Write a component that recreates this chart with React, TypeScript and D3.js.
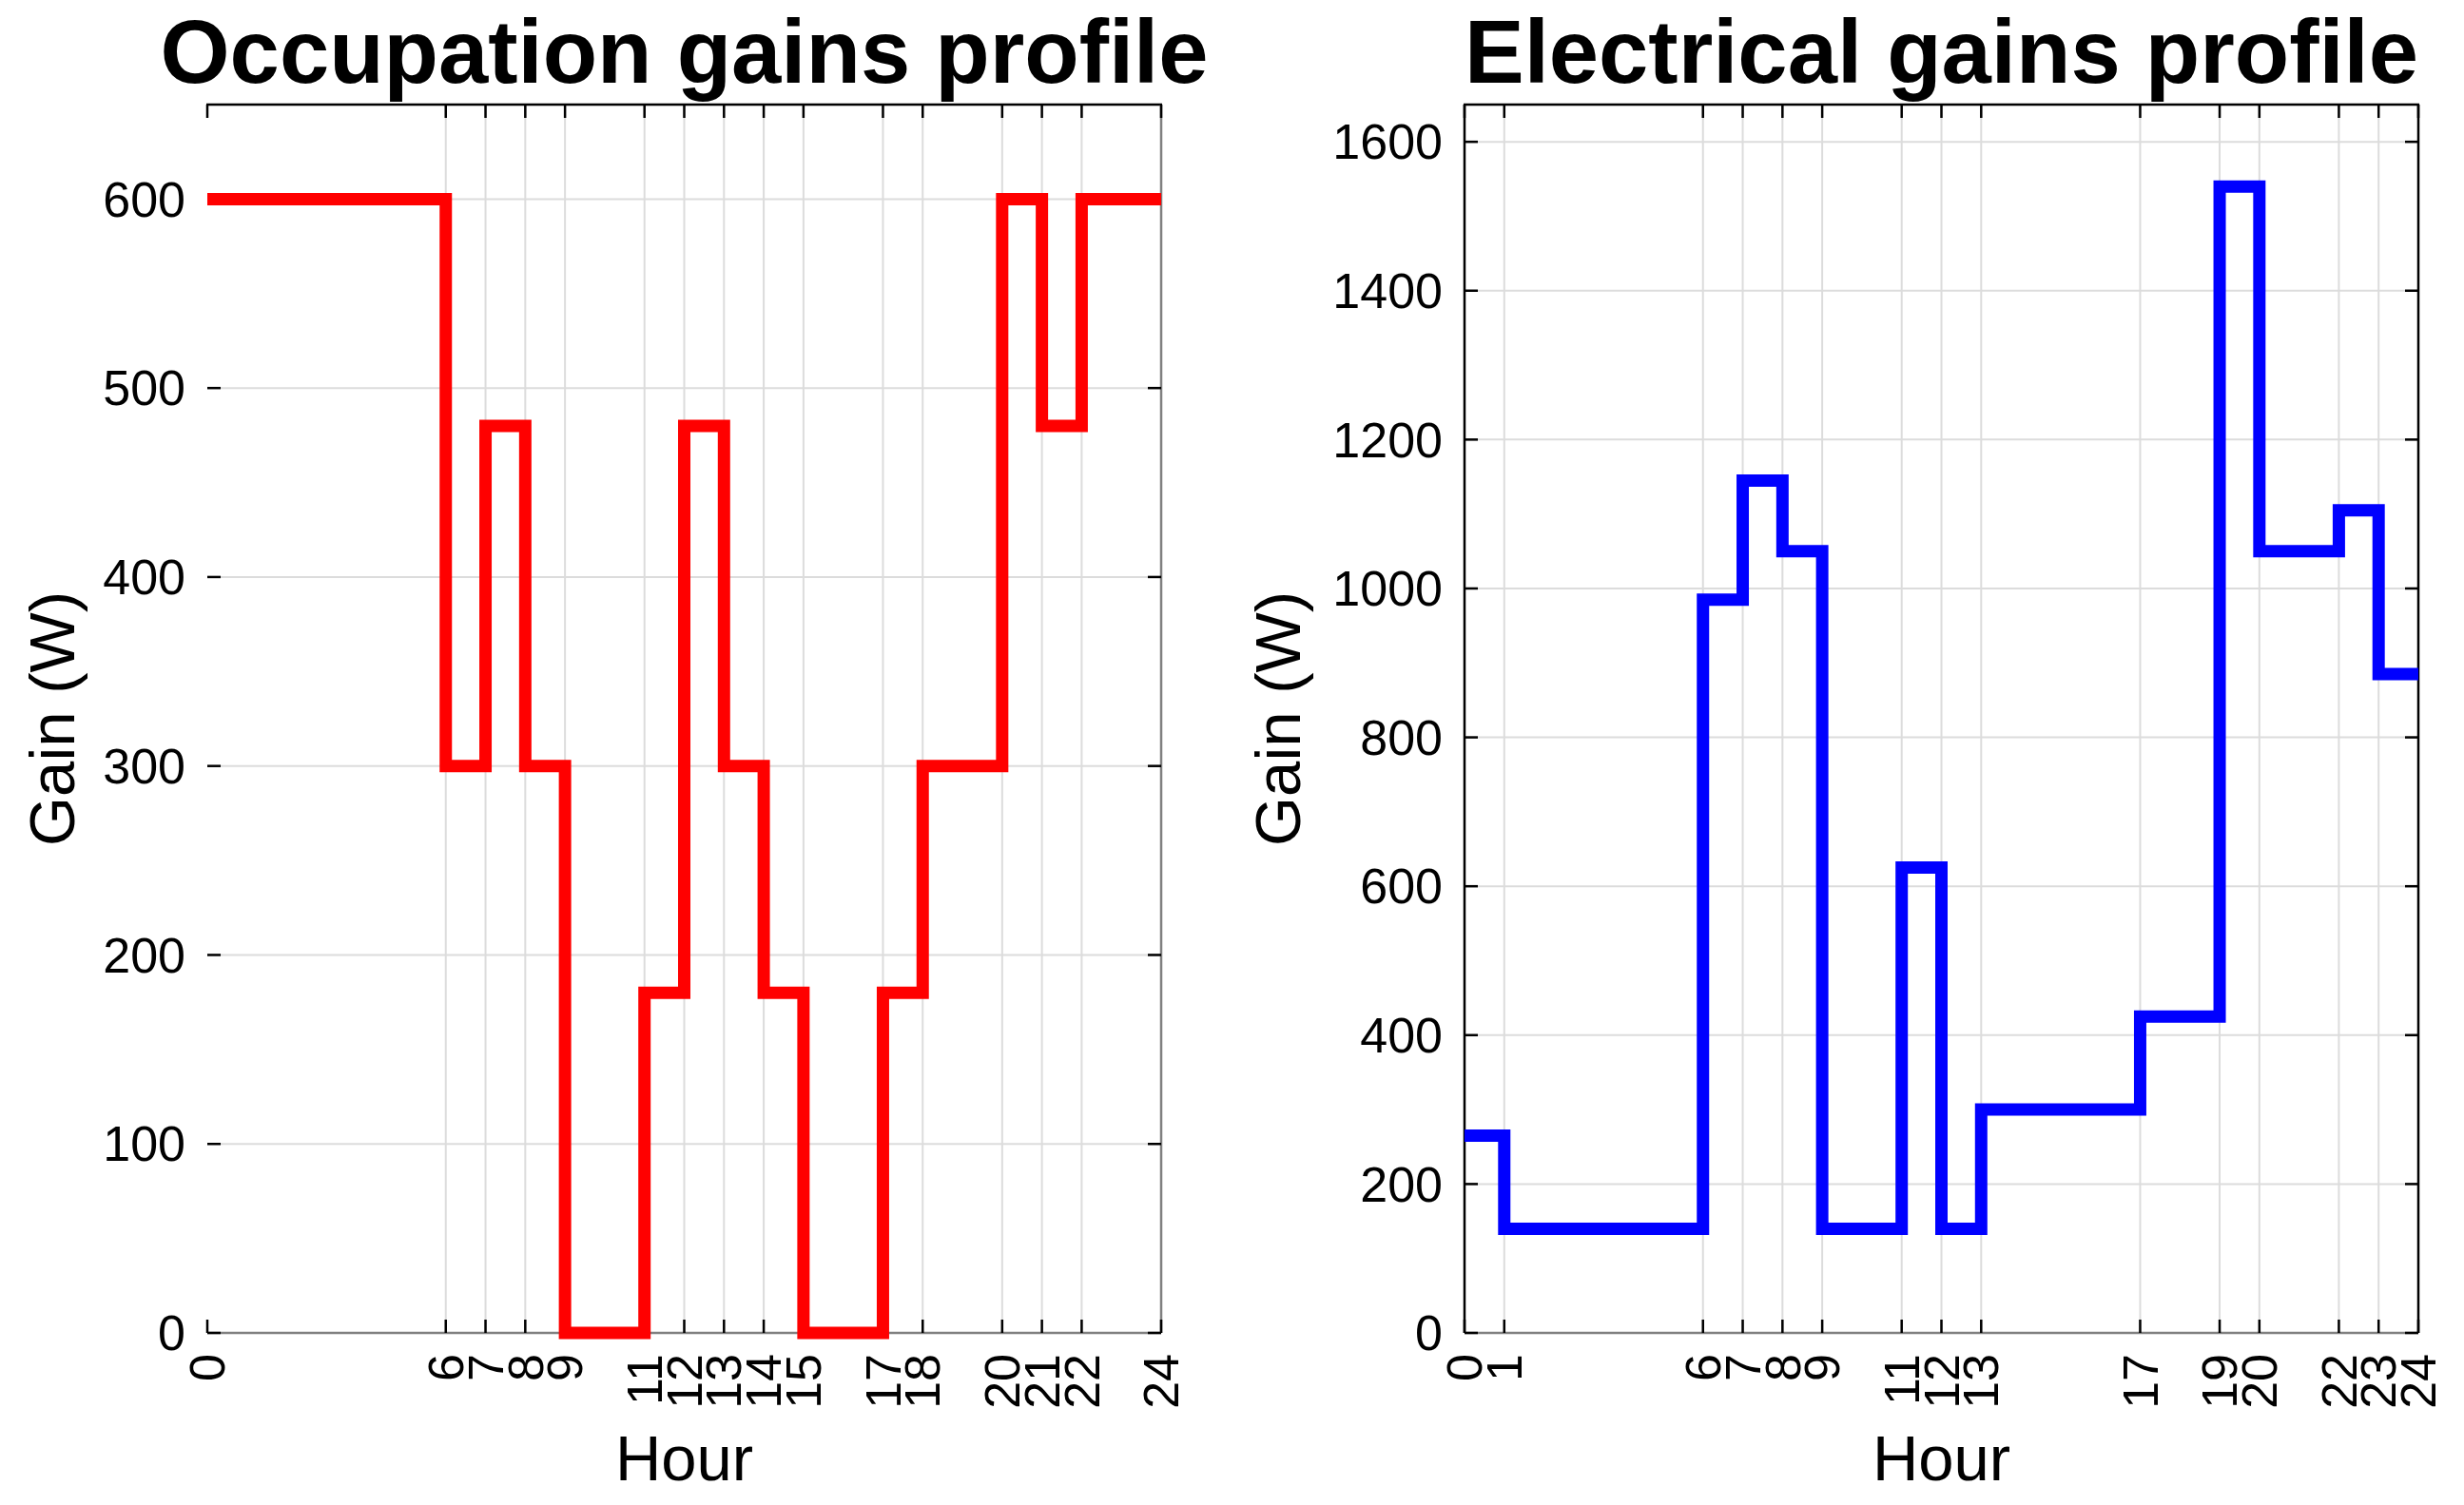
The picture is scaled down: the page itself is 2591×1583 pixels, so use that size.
import React from "react";
import * as d3 from "d3";

// ---- data ----
const occHours = [0, 6, 7, 8, 9, 11, 12, 13, 14, 15, 17, 18, 20, 21, 22, 24];
const occGains = [600, 300, 480, 300, 0, 180, 480, 300, 180, 0, 180, 300, 600, 480, 600];
const occYTicks = [0, 100, 200, 300, 400, 500, 600];

const elecHours = [0, 1, 6, 7, 8, 9, 11, 12, 13, 17, 19, 20, 22, 23, 24];
const elecGains = [265, 140, 985, 1145, 1050, 140, 625, 140, 300, 425, 1540, 1050, 1105, 885];
const elecYTicks = [0, 200, 400, 600, 800, 1000, 1200, 1400, 1600];

const FONT = "'Liberation Sans', Arial, Helvetica, sans-serif";
const W = 2591;
const H = 1583;
const TOP = 110;
const BOTTOM = 1402;

type PanelProps = {
  x0: number;
  x1: number;
  title: string;
  hours: number[];
  gains: number[];
  yTicks: number[];
  yMax: number;
  color: string;
  ylabelX: number;
  leftAxis: boolean;
  rightAxisColor: string;
};

function Panel(p: PanelProps) {
  const x = d3.scaleLinear().domain([0, 24]).range([p.x0, p.x1]);
  const y = d3.scaleLinear().domain([0, p.yMax]).range([BOTTOM, TOP]);
  const pts: [number, number][] = p.hours.map((h, i) => [
    h,
    p.gains[Math.min(i, p.gains.length - 1)],
  ]);
  const line = d3
    .line<[number, number]>()
    .x((d) => x(d[0]))
    .y((d) => y(d[1]))
    .curve(d3.curveStepAfter);
  const cx = (p.x0 + p.x1) / 2;
  const cy = (TOP + BOTTOM) / 2;
  const tickLen = 14;
  return (
    <g>
      {/* grid */}
      {p.yTicks
        .filter((t) => t > 0)
        .map((t) => (
          <line key={"gy" + t} x1={p.x0} x2={p.x1} y1={y(t)} y2={y(t)} stroke="#dcdcdc" strokeWidth={2} />
        ))}
      {p.hours
        .filter((h) => h > 0 && h < 24)
        .map((h) => (
          <line key={"gx" + h} x1={x(h)} x2={x(h)} y1={TOP} y2={BOTTOM} stroke="#dcdcdc" strokeWidth={2} />
        ))}
      {/* axes box */}
      <line x1={p.x0} x2={p.x1} y1={BOTTOM} y2={BOTTOM} stroke="#808080" strokeWidth={2.5} />
      <line x1={p.x0 - 1} x2={p.x1 + 1} y1={TOP} y2={TOP} stroke="#000" strokeWidth={2.5} />
      {p.leftAxis && <line x1={p.x0} x2={p.x0} y1={TOP} y2={BOTTOM} stroke="#000" strokeWidth={2.5} />}
      <line x1={p.x1} x2={p.x1} y1={TOP} y2={BOTTOM} stroke={p.rightAxisColor} strokeWidth={2.5} />
      {/* ticks */}
      {p.yTicks.map((t) => (
        <g key={"ty" + t}>
          <line x1={p.x0} x2={p.x0 + tickLen} y1={y(t)} y2={y(t)} stroke="#000" strokeWidth={2.5} />
          <line x1={p.x1} x2={p.x1 - tickLen} y1={y(t)} y2={y(t)} stroke="#000" strokeWidth={2.5} />
        </g>
      ))}
      {p.hours.map((h) => (
        <g key={"tx" + h}>
          <line x1={x(h)} x2={x(h)} y1={BOTTOM} y2={BOTTOM - tickLen} stroke="#000" strokeWidth={2.5} />
          <line x1={x(h)} x2={x(h)} y1={TOP} y2={TOP + tickLen} stroke="#000" strokeWidth={2.5} />
        </g>
      ))}
      {/* data line */}
      <path d={line(pts) || ""} fill="none" stroke={p.color} strokeWidth={13} strokeLinejoin="miter" strokeLinecap="butt" />
      {/* y tick labels */}
      {p.yTicks.map((t) => (
        <text key={"ly" + t} x={p.x0 - 23} y={y(t)} dy="0.35em" textAnchor="end" fontSize={52} fontFamily={FONT}>
          {t}
        </text>
      ))}
      {/* x tick labels */}
      {p.hours.map((h) => (
        <text
          key={"lx" + h}
          transform={`translate(${x(h)},${BOTTOM + 22}) rotate(-90)`}
          dy="0.35em"
          textAnchor="end"
          fontSize={52}
          fontFamily={FONT}
        >
          {h}
        </text>
      ))}
      {/* labels */}
      <text x={cx} y={87} textAnchor="middle" fontSize={94} fontWeight="bold" fontFamily={FONT}>
        {p.title}
      </text>
      <text x={cx} y={1557} textAnchor="middle" fontSize={67} fontFamily={FONT}>
        Hour
      </text>
      <text transform={`translate(${p.ylabelX},${cy}) rotate(-90)`} textAnchor="middle" fontSize={67} fontFamily={FONT}>
        Gain (W)
      </text>
    </g>
  );
}

export default function App() {
  return (
    <svg
      width={W}
      height={H}
      viewBox={`0 0 ${W} ${H}`}
      style={{ position: "absolute", left: 0, top: 0, background: "#fff" }}
    >
      <rect x={0} y={0} width={W} height={H} fill="#fff" />
      <Panel
        x0={218}
        x1={1221}
        title="Occupation gains profile"
        hours={occHours}
        gains={occGains}
        yTicks={occYTicks}
        yMax={650}
        color="#ff0000"
        ylabelX={78}
        leftAxis={false}
        rightAxisColor="#808080"
      />
      <Panel
        x0={1540}
        x1={2543}
        title="Electrical gains profile"
        hours={elecHours}
        gains={elecGains}
        yTicks={elecYTicks}
        yMax={1650}
        color="#0000ff"
        ylabelX={1367}
        leftAxis={true}
        rightAxisColor="#000"
      />
    </svg>
  );
}
